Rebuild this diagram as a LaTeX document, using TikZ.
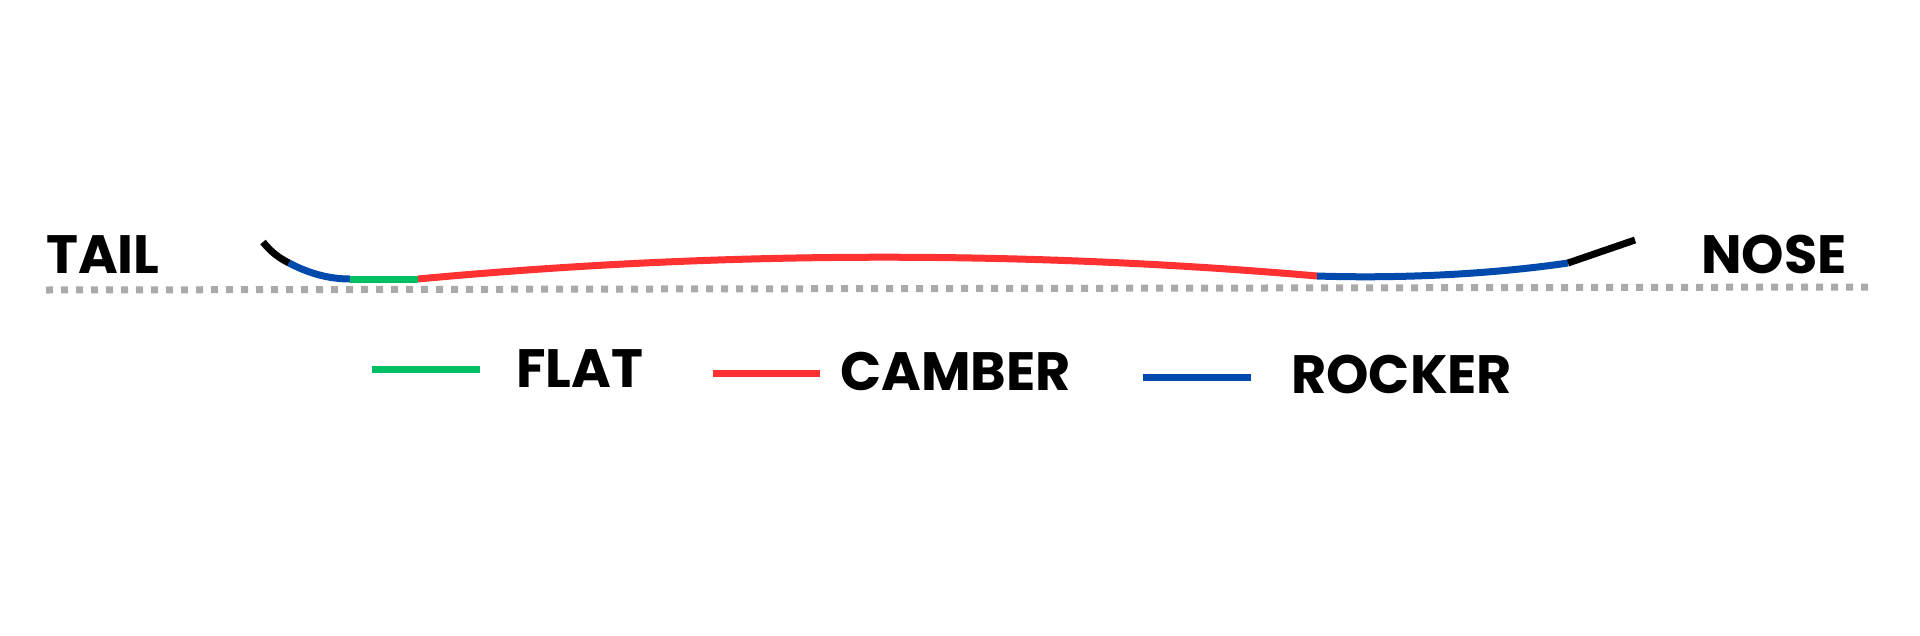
\documentclass[tikz,border=0pt]{standalone}
\usepackage{fontspec}
\setmainfont{Poppins}
\definecolor{flatgreen}{HTML}{00BF63}
\definecolor{camberred}{HTML}{FF3131}
\definecolor{rockerblue}{HTML}{004AAD}
\definecolor{baseGray}{HTML}{AAAAAA}
\begin{document}
\begin{tikzpicture}[x=1pt,y=-1pt,
  seg/.style={line width=7pt,line cap=butt},
  lbl/.style={font=\fontsize{54}{60}\selectfont\bfseries,inner sep=0pt},
  legline/.style={line width=7pt},
  baseline/.style={baseGray,line width=7pt,dash pattern=on 7pt off 8pt}]
\useasboundingbox[fill=white] (0,0) rectangle (1920,635);
% ground
\coordinate (g1) at (46,290);
\coordinate (g2) at (1872,287);
\draw[baseline] (g1) -- (g2);
% labels
\node[lbl,anchor=base west] (tail) at (46,273) {TAIL};
\node[lbl,anchor=base east] (nose) at (1847,273) {NOSE};
% board profile
\coordinate (t0) at (263,242);
\coordinate (t1) at (289,263);
\coordinate (t2) at (350,279);
\coordinate (t3) at (418,279);
\coordinate (n0) at (1317,276);
\coordinate (n1) at (1568,263);
\coordinate (n2) at (1635,240);
\draw[seg,black] (t0) .. controls (271,252) and (279,258) .. (t1);
\draw[seg,rockerblue] (t1) .. controls (310,274) and (330,279) .. (t2);
\draw[seg,flatgreen] (t2) -- (t3);
\draw[seg,camberred] (t3) .. controls (718,251) and (1017,250) .. (n0);
\draw[seg,rockerblue] (n0) .. controls (1410,279) and (1500,273) .. (n1);
\draw[seg,black] (n1) -- (n2);
% legend
\coordinate (lg1) at (372,369);
\coordinate (lg2) at (480,369);
\draw[legline,flatgreen] (lg1) -- (lg2);
\node[lbl,anchor=base west] (flat) at (516,387) {FLAT};
\coordinate (lr1) at (713,373);
\coordinate (lr2) at (820,373);
\draw[legline,camberred] (lr1) -- (lr2);
\node[lbl,anchor=base west] (camber) at (840,390) {CAMBER};
\coordinate (lb1) at (1143,377);
\coordinate (lb2) at (1251,377);
\draw[legline,rockerblue] (lb1) -- (lb2);
\node[lbl,anchor=base west] (rocker) at (1291,393) {ROCKER};
\end{tikzpicture}
\end{document}
